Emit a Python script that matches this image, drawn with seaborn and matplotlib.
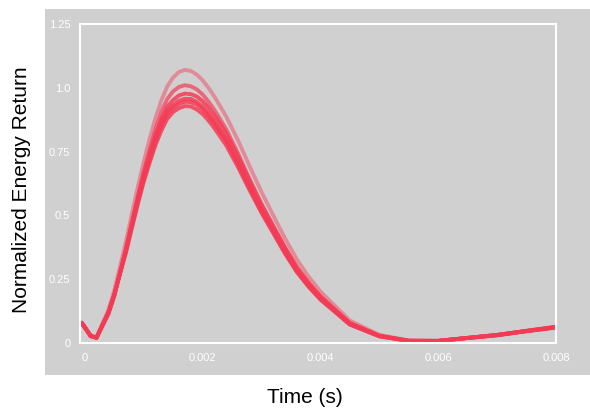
import pandas as pd
import matplotlib
matplotlib.use("Agg")
import matplotlib.pyplot as plt
from matplotlib.patches import Rectangle
import seaborn as sns

# time axis (s)
time_s = [-0.00005, 0, 0.0001, 0.0002, 0.0003, 0.0004, 0.0005, 0.0006, 0.0007, 0.0008,
          0.0009, 0.001, 0.0011, 0.0012, 0.0013, 0.0014, 0.0015, 0.0016, 0.0017, 0.0018,
          0.0019, 0.002, 0.0021, 0.0022, 0.0024, 0.0026, 0.0028, 0.003, 0.0032, 0.0034,
          0.0036, 0.0038, 0.004, 0.0045, 0.005, 0.0055, 0.006, 0.0065, 0.007, 0.0075, 0.008]

# normalized energy return, one list per trace
trace_1 = [0.078, 0.062, 0.028, 0.020, 0.070, 0.117, 0.187, 0.276, 0.362, 0.460,
           0.556, 0.646, 0.724, 0.798, 0.860, 0.907, 0.932, 0.949, 0.957, 0.956,
           0.945, 0.926, 0.900, 0.868, 0.798, 0.708, 0.611, 0.521, 0.440, 0.358,
           0.284, 0.226, 0.175, 0.074, 0.027, 0.008, 0.008, 0.020, 0.031, 0.047, 0.062]
trace_2 = [0.075, 0.060, 0.026, 0.022, 0.072, 0.120, 0.190, 0.272, 0.355, 0.450,
           0.543, 0.630, 0.705, 0.775, 0.832, 0.878, 0.905, 0.920, 0.928, 0.927,
           0.915, 0.898, 0.872, 0.842, 0.775, 0.690, 0.598, 0.510, 0.430, 0.350,
           0.278, 0.220, 0.170, 0.072, 0.026, 0.009, 0.009, 0.019, 0.030, 0.046, 0.060]
trace_3 = [0.080, 0.064, 0.030, 0.021, 0.068, 0.115, 0.185, 0.278, 0.368, 0.468,
           0.566, 0.658, 0.740, 0.815, 0.878, 0.925, 0.952, 0.970, 0.977, 0.975,
           0.966, 0.948, 0.923, 0.893, 0.822, 0.732, 0.634, 0.540, 0.456, 0.372,
           0.296, 0.235, 0.182, 0.078, 0.029, 0.009, 0.008, 0.020, 0.032, 0.048, 0.064]
trace_4 = [0.077, 0.061, 0.027, 0.019, 0.066, 0.112, 0.182, 0.275, 0.368, 0.472,
           0.574, 0.670, 0.756, 0.836, 0.904, 0.956, 0.986, 1.003, 1.010, 1.006,
           0.994, 0.974, 0.946, 0.914, 0.838, 0.744, 0.642, 0.546, 0.460, 0.375,
           0.298, 0.236, 0.183, 0.078, 0.028, 0.008, 0.008, 0.020, 0.031, 0.047, 0.062]
trace_5 = [0.079, 0.063, 0.029, 0.020, 0.075, 0.128, 0.205, 0.300, 0.398, 0.505,
           0.610, 0.708, 0.798, 0.880, 0.950, 1.005, 1.040, 1.062, 1.070, 1.066,
           1.052, 1.030, 1.000, 0.966, 0.888, 0.795, 0.692, 0.592, 0.500, 0.410,
           0.328, 0.260, 0.202, 0.088, 0.032, 0.010, 0.008, 0.020, 0.031, 0.047, 0.062]
trace_6 = [0.078, 0.062, 0.028, 0.021, 0.069, 0.116, 0.186, 0.273, 0.358, 0.455,
           0.550, 0.640, 0.716, 0.789, 0.850, 0.895, 0.921, 0.937, 0.945, 0.944,
           0.934, 0.916, 0.890, 0.860, 0.792, 0.704, 0.608, 0.518, 0.437, 0.355,
           0.281, 0.223, 0.173, 0.073, 0.027, 0.008, 0.008, 0.020, 0.031, 0.047, 0.062]

traces = {'t1': trace_1, 't2': trace_2, 't3': trace_3, 't4': trace_4, 't5': trace_5, 't6': trace_6}
trace_alpha = {'t1': 0.85, 't2': 0.85, 't3': 0.85, 't4': 0.7, 't5': 0.45, 't6': 0.85}

x_ticks = [0, 0.002, 0.004, 0.006, 0.008]
y_ticks = [0, 0.25, 0.5, 0.75, 1.0, 1.25]

df = pd.DataFrame({
    'time': time_s * len(traces),
    'energy': sum(traces.values(), []),
    'trace': [k for k in traces for _ in time_s],
})

panel = '#d0d0d0'
sns.set_style('dark', {'axes.facecolor': panel, 'axes.edgecolor': 'white'})
plt.rcParams['font.family'] = ['Liberation Sans', 'DejaVu Sans']

fig = plt.figure(figsize=(5.9, 4.13), dpi=100)
fig.patch.set_facecolor('white')
# grey scanned panel behind the axes and tick labels
fig.patches.append(Rectangle((0.076, 0.092), 0.924, 0.886, transform=fig.transFigure,
                             facecolor=panel, edgecolor='none', zorder=-10))
ax = fig.add_axes([0.1356, 0.1695, 0.8068, 0.7725])
ax.set_zorder(5)

for name in traces:
    sns.lineplot(data=df[df['trace'] == name], x='time', y='energy', ax=ax,
                 color='#f53b55', alpha=trace_alpha[name], linewidth=2.8)

ax.set_xlim(-0.00008, 0.008)
ax.set_ylim(0, 1.25)
ax.set_xticks(x_ticks)
ax.set_xticklabels([str(v) for v in x_ticks])
ax.set_yticks(y_ticks)
ax.set_yticklabels([str(v) for v in y_ticks])
ax.tick_params(colors='white', labelsize=8, length=0, pad=7)
for s in ax.spines.values():
    s.set_color('white')
    s.set_linewidth(1.5)

ax.set_xlabel('Time (s)', fontsize=15, color='black')
ax.set_ylabel('Normalized Energy Return', fontsize=15, color='black')
ax.xaxis.set_label_coords(0.473, -0.141)
ax.yaxis.set_label_coords(-0.103, 0.48)

fig.savefig('out.png', dpi=100, facecolor='white')
